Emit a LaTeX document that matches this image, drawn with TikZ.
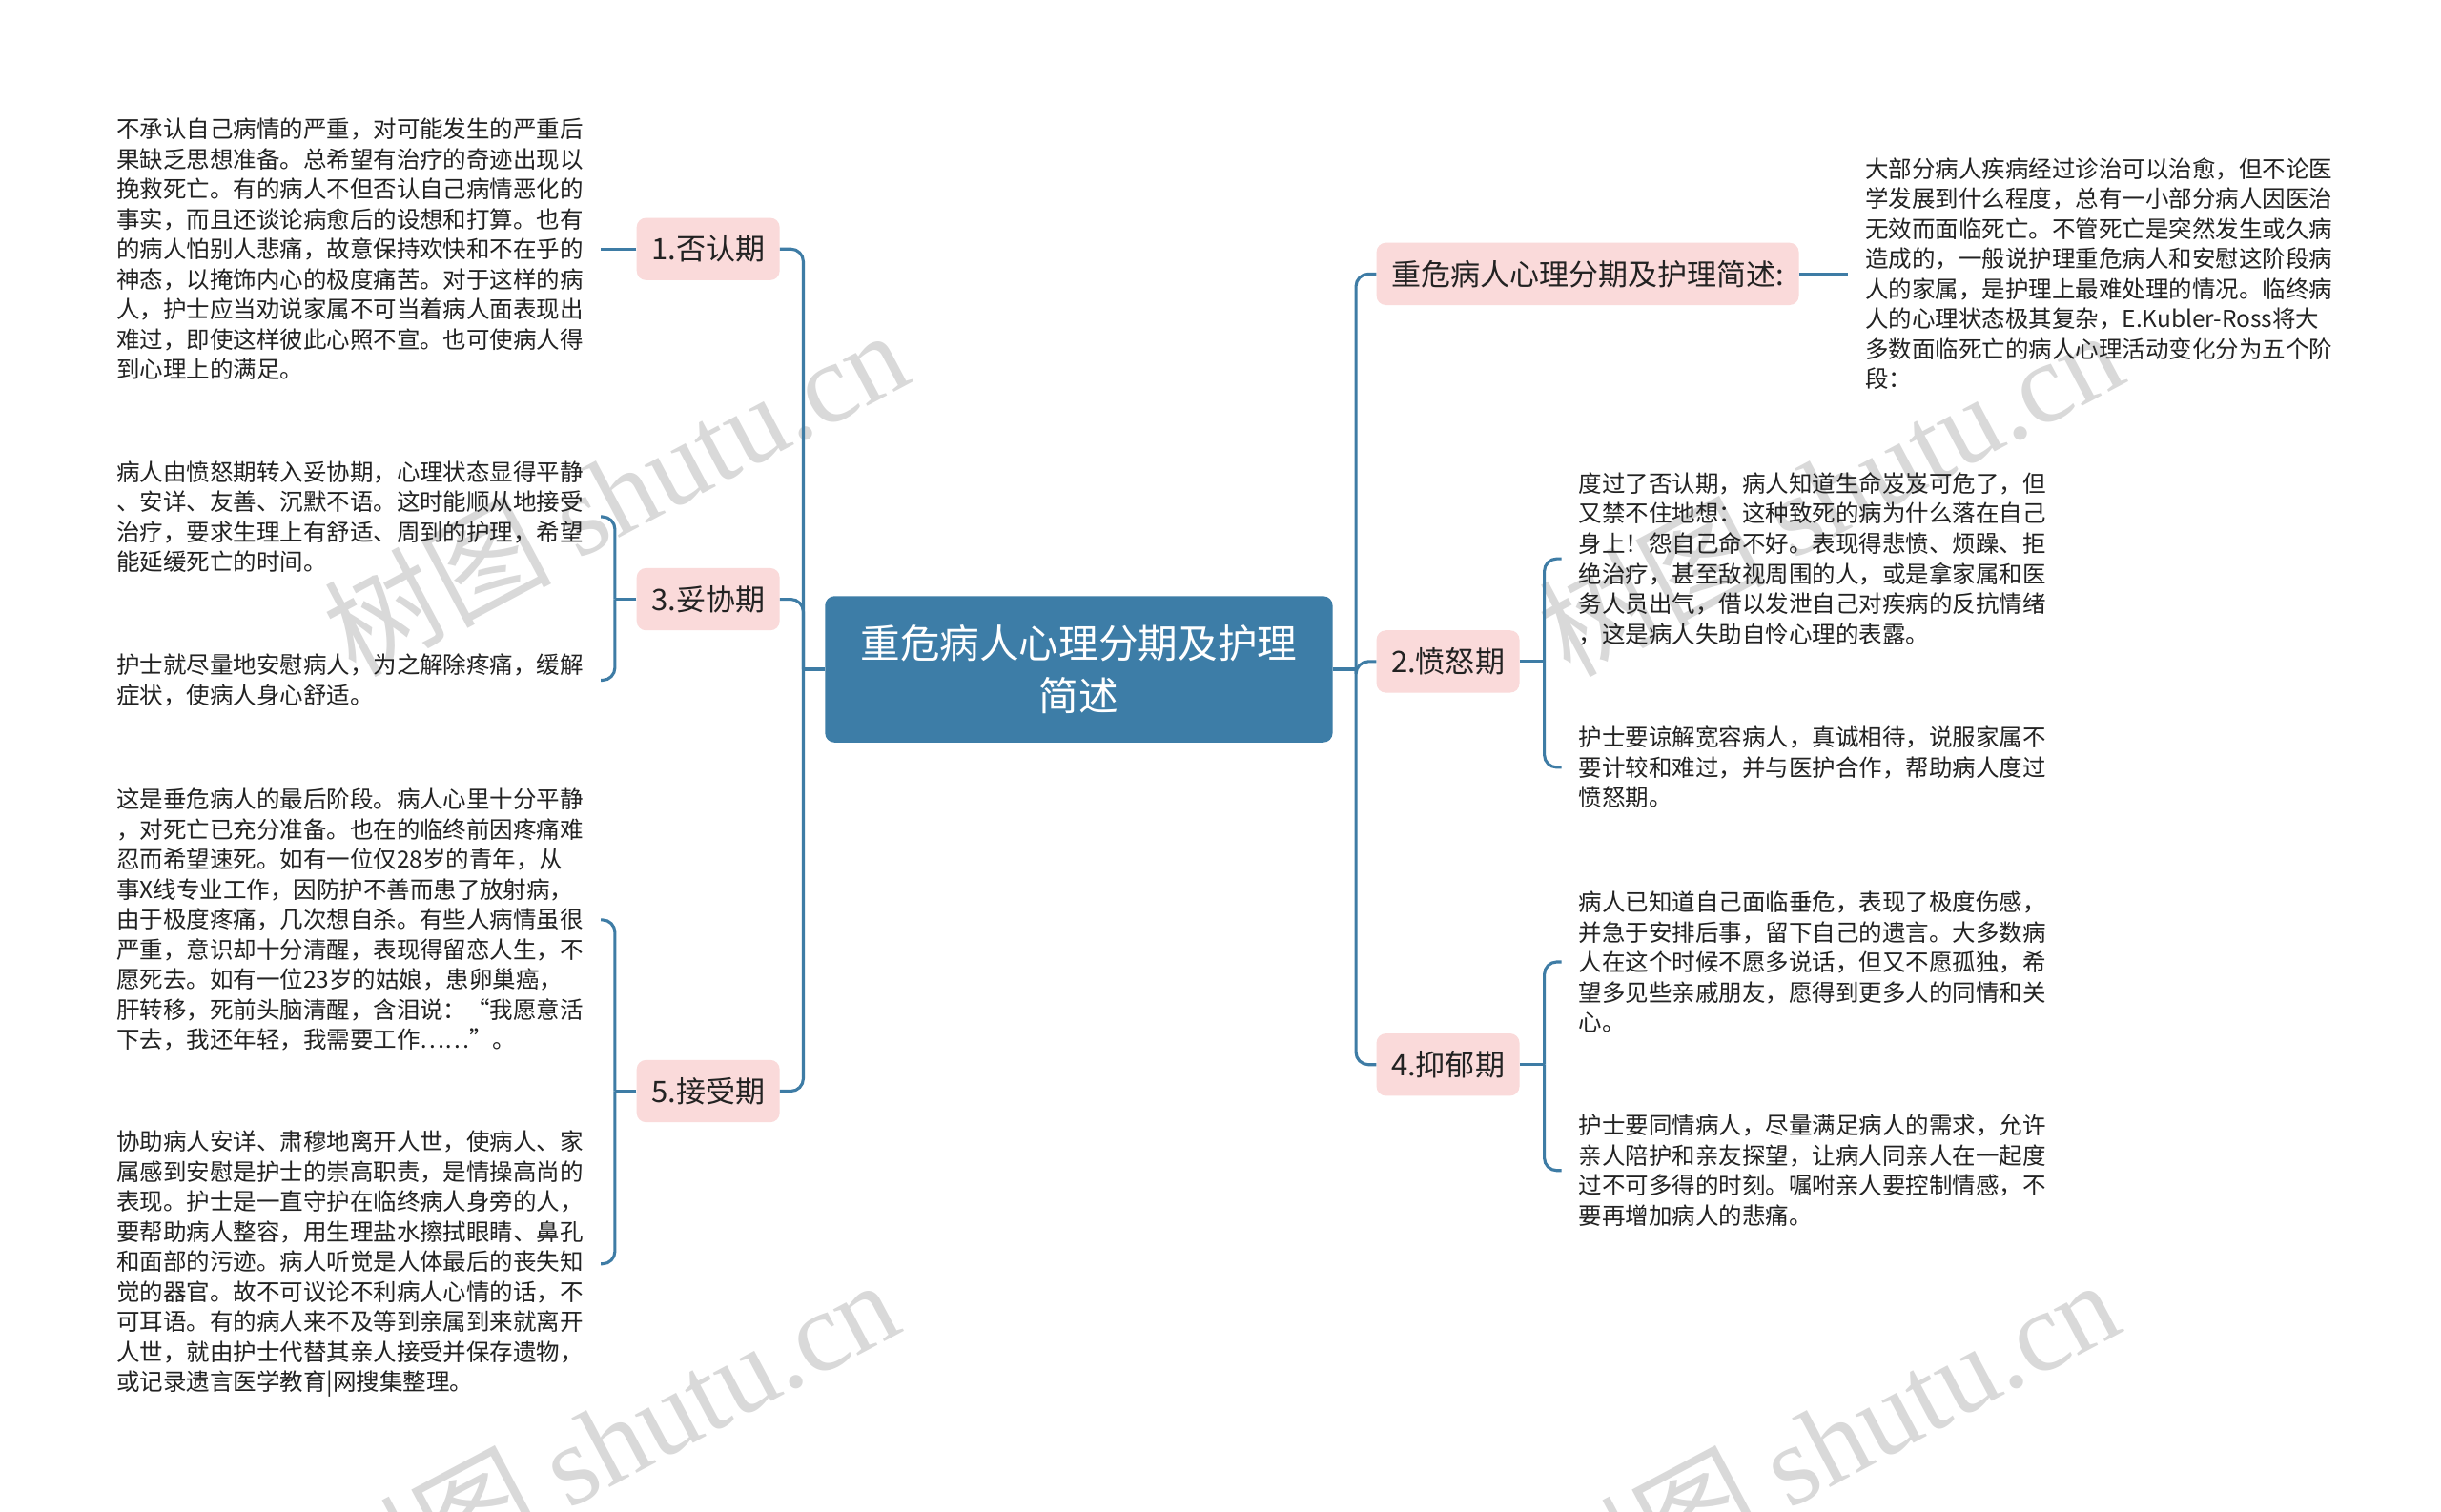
\documentclass[tikz,border=0pt]{standalone}
\usepackage{fontspec}
\usepackage{tikz}
\setmainfont{Noto Sans CJK SC}
\newfontfamily\wmfont{Liberation Serif}
\definecolor{rootblue}{HTML}{3D7DA7}
\definecolor{linkblue}{HTML}{3E7CA5}
\definecolor{stagepink}{HTML}{FADADA}
\definecolor{bodytext}{HTML}{222222}
\definecolor{wmgray}{HTML}{D9D9D9}
\tikzstyle{rootbox} = [rectangle, rounded corners=6pt, fill=rootblue, text=white, minimum width=326pt, minimum height=94pt, align=center, font=\fontsize{25.5}{34}\selectfont]
\tikzstyle{stage} = [rectangle, rounded corners=6pt, fill=stagepink, text=bodytext, minimum height=40pt, inner xsep=9.5pt, font=\fontsize{19}{22}\selectfont]
\tikzstyle{leaf} = [align=left, text=bodytext, inner xsep=11pt, inner ysep=0pt, font=\fontsize{15}{19.3}\selectfont]
\tikzstyle{link} = [draw=linkblue, line width=1.9pt, rounded corners=8pt]
\tikzstyle{watermark} = [text=wmgray, rotate=28, anchor=base west, inner sep=0pt, font=\fontsize{73}{73}\selectfont]

\begin{document}
\begin{tikzpicture}[x=1pt, y=-1pt]
\useasboundingbox [fill=white] (0,0) rectangle (1568,971);
% watermarks
\node (wm1) [watermark] at (228,436) {树图 {\wmfont shutu.cn}};
\node (wm2) [watermark] at (222,1046) {树图 {\wmfont shutu.cn}};
\node (wm3) [watermark] at (1008,436) {树图 {\wmfont shutu.cn}};
\node (wm4) [watermark] at (1006,1046) {树图 {\wmfont shutu.cn}};

\node (root) [rootbox] at (693,430) {重危病人心理分期及护理\\简述};
\coordinate (jl) at (516,430);
\coordinate (jr) at (871,430);

% left stages
\node (s1) [stage, anchor=east] at (501,160) {1.否认期};
\node (s3) [stage, anchor=east] at (501,385) {3.妥协期};
\node (s5) [stage, anchor=east] at (501,701) {5.接受期};
% right stages
\node (s0) [stage, anchor=west] at (884,176) {重危病人心理分期及护理简述:};
\node (s2) [stage, anchor=west] at (884,425) {2.愤怒期};
\node (s4) [stage, anchor=west] at (884,684) {4.抑郁期};

\coordinate (b3) at (395,385);
\coordinate (b5) at (395,701);
\coordinate (b2) at (992,425);
\coordinate (b4) at (992,684);

% texts
\node (t1a) [leaf, anchor=east] at (386,160) {不承认自己病情的严重，对可能发生的严重后\\果缺乏思想准备。总希望有治疗的奇迹出现以\\挽救死亡。有的病人不但否认自己病情恶化的\\事实，而且还谈论病愈后的设想和打算。也有\\的病人怕别人悲痛，故意保持欢快和不在乎的\\神态，以掩饰内心的极度痛苦。对于这样的病\\人，护士应当劝说家属不可当着病人面表现出\\难过，即使这样彼此心照不宣。也可使病人得\\到心理上的满足。};
\node (t3a) [leaf, anchor=east] at (386,332) {病人由愤怒期转入妥协期，心理状态显得平静\\、安详、友善、沉默不语。这时能顺从地接受\\治疗，要求生理上有舒适、周到的护理，希望\\能延缓死亡的时间。};
\node (t3b) [leaf, anchor=east] at (386,437) {护士就尽量地安慰病人，为之解除疼痛，缓解\\症状，使病人身心舒适。};
\node (t5a) [leaf, anchor=east] at (386,591) {这是垂危病人的最后阶段。病人心里十分平静\\，对死亡已充分准备。也在的临终前因疼痛难\\忍而希望速死。如有一位仅28岁的青年，从\\事X线专业工作，因防护不善而患了放射病，\\由于极度疼痛，几次想自杀。有些人病情虽很\\严重，意识却十分清醒，表现得留恋人生，不\\愿死去。如有一位23岁的姑娘，患卵巢癌，\\肝转移，死前头脑清醒，含泪说：“我愿意活\\下去，我还年轻，我需要工作……”。};
\node (t5b) [leaf, anchor=east] at (386,812) {协助病人安详、肃穆地离开人世，使病人、家\\属感到安慰是护士的崇高职责，是情操高尚的\\表现。护士是一直守护在临终病人身旁的人，\\要帮助病人整容，用生理盐水擦拭眼睛、鼻孔\\和面部的污迹。病人听觉是人体最后的丧失知\\觉的器官。故不可议论不利病人心情的话，不\\可耳语。有的病人来不及等到亲属到来就离开\\人世，就由护士代替其亲人接受并保存遗物，\\或记录遗言医学教育|网搜集整理。};
\node (t0) [leaf, anchor=west] at (1187,176) {大部分病人疾病经过诊治可以治愈，但不论医\\学发展到什么程度，总有一小部分病人因医治\\无效而面临死亡。不管死亡是突然发生或久病\\造成的，一般说护理重危病人和安慰这阶段病\\人的家属，是护理上最难处理的情况。临终病\\人的心理状态极其复杂，E.Kubler-Ross将大\\多数面临死亡的病人心理活动变化分为五个阶\\段：};
\node (t2a) [leaf, anchor=west] at (1003,359) {度过了否认期，病人知道生命岌岌可危了，但\\又禁不住地想：这种致死的病为什么落在自己\\身上！怨自己命不好。表现得悲愤、烦躁、拒\\绝治疗，甚至敌视周围的人，或是拿家属和医\\务人员出气，借以发泄自己对疾病的反抗情绪\\，这是病人失助自怜心理的表露。};
\node (t2b) [leaf, anchor=west] at (1003,493) {护士要谅解宽容病人，真诚相待，说服家属不\\要计较和难过，并与医护合作，帮助病人度过\\愤怒期。};
\node (t4a) [leaf, anchor=west] at (1003,618) {病人已知道自己面临垂危，表现了极度伤感，\\并急于安排后事，留下自己的遗言。大多数病\\人在这个时候不愿多说话，但又不愿孤独，希\\望多见些亲戚朋友，愿得到更多人的同情和关\\心。};
\node (t4b) [leaf, anchor=west] at (1003,752) {护士要同情病人，尽量满足病人的需求，允许\\亲人陪护和亲友探望，让病人同亲人在一起度\\过不可多得的时刻。嘱咐亲人要控制情感，不\\要再增加病人的悲痛。};

% connectors
\draw [link] (root.west) -- (jl);
\draw [link] (jl) |- (s1.east);
\draw [link] (jl) |- (s3.east);
\draw [link] (jl) |- (s5.east);
\draw [link] (root.east) -- (jr);
\draw [link] (jr) |- (s0.west);
\draw [link] (jr) |- (s2.west);
\draw [link] (jr) |- (s4.west);
\draw [link] (s1.west) -- (t1a.east);
\draw [link] (s3.west) -- (b3);
\draw [link] (b3) |- (t3a.east);
\draw [link] (b3) |- (t3b.east);
\draw [link] (s5.west) -- (b5);
\draw [link] (b5) |- (t5a.east);
\draw [link] (b5) |- (t5b.east);
\draw [link] (s0.east) -- (t0.west);
\draw [link] (s2.east) -- (b2);
\draw [link] (b2) |- (t2a.west);
\draw [link] (b2) |- (t2b.west);
\draw [link] (s4.east) -- (b4);
\draw [link] (b4) |- (t4a.west);
\draw [link] (b4) |- (t4b.west);
\end{tikzpicture}
\end{document}
